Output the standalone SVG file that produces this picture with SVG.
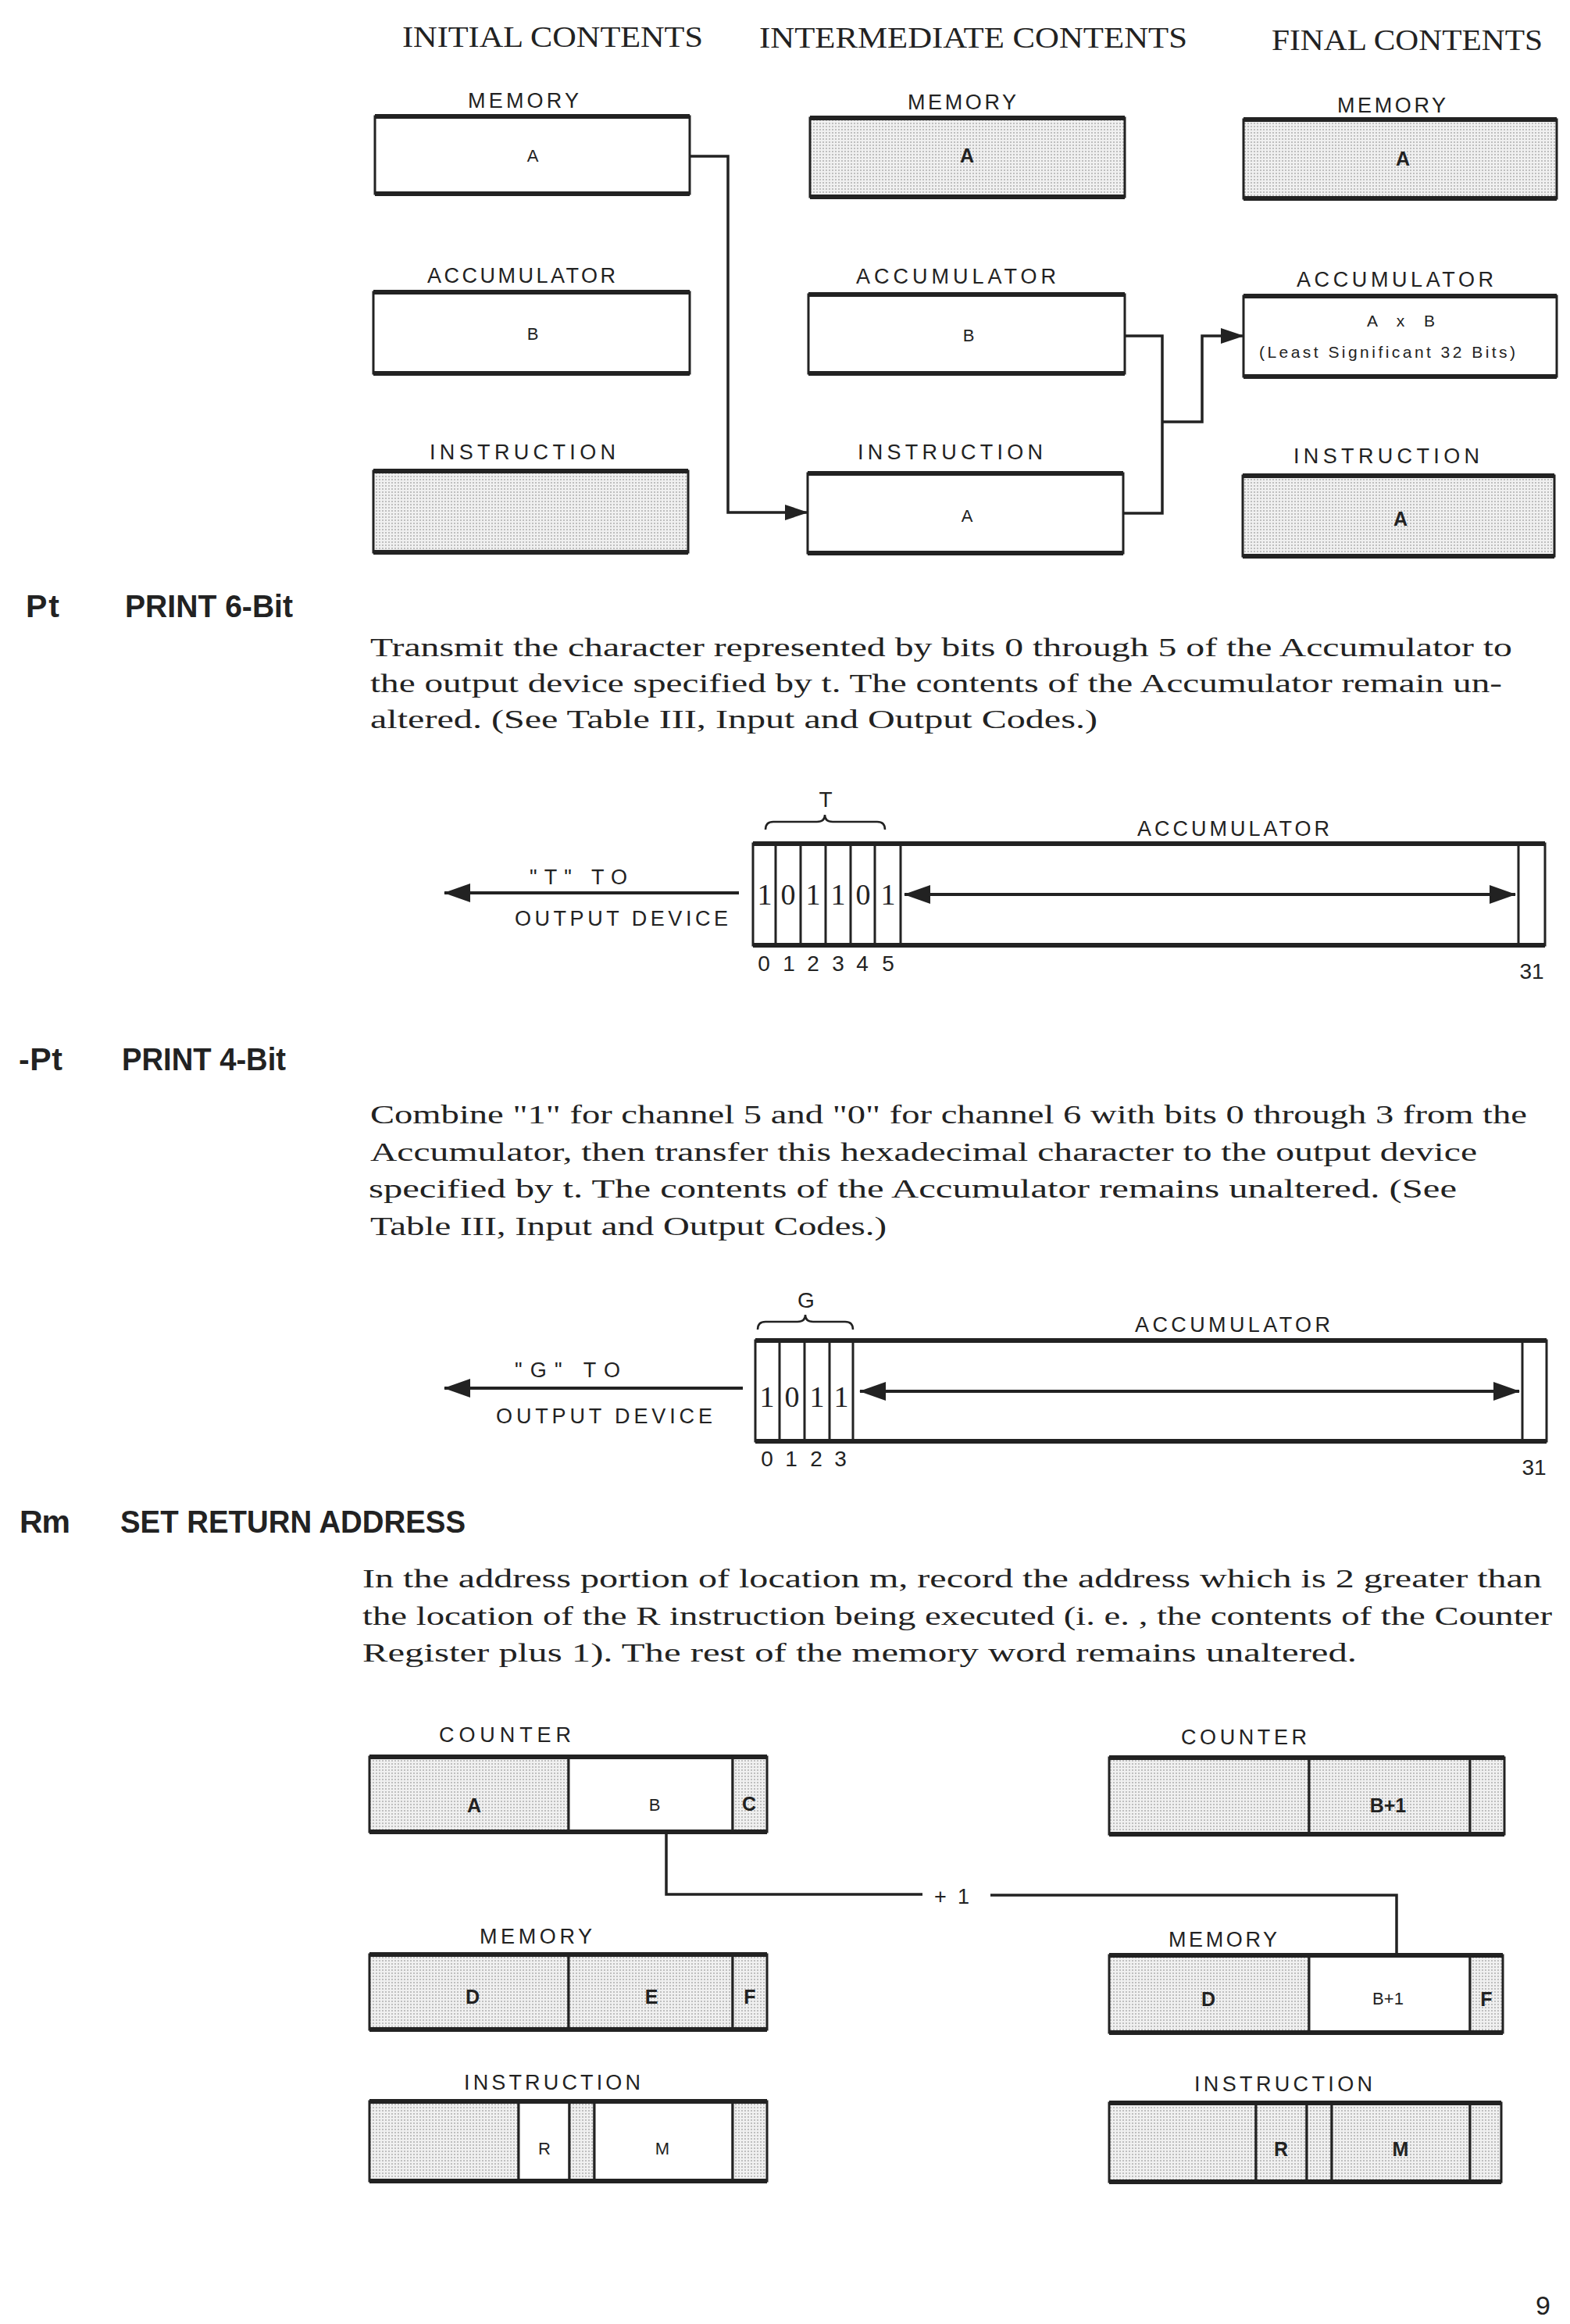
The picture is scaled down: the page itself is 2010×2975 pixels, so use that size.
<svg xmlns="http://www.w3.org/2000/svg" width="2010" height="2975" viewBox="0 0 2010 2975">
<defs>
<pattern id="dots" width="4" height="4" patternUnits="userSpaceOnUse"><rect width="4" height="4" fill="#f0f0f0"/><circle cx="2" cy="2" r="0.9" fill="#a8a8a8"/></pattern>
<marker id="ah" viewBox="0 0 30 20" refX="29" refY="10" markerWidth="30" markerHeight="20" markerUnits="userSpaceOnUse" orient="auto"><path d="M0,0 L30,10 L0,20 z" fill="#222"/></marker>
<marker id="big" viewBox="0 0 34 24" refX="33" refY="12" markerWidth="34" markerHeight="24" markerUnits="userSpaceOnUse" orient="auto-start-reverse"><path d="M0,0 L34,12 L0,24 z" fill="#222"/></marker>
<style>
text{fill:#222}
.lbl{font-family:"Liberation Sans",Arial,sans-serif;font-size:27px}
.sm{font-family:"Liberation Sans",Arial,sans-serif;font-size:21px}
.let{font-family:"Liberation Sans",Arial,sans-serif;font-size:22px;text-anchor:middle}
.letb{font-family:"Liberation Sans",Arial,sans-serif;font-size:25px;font-weight:bold;text-anchor:middle}
.num{font-family:"Liberation Sans",Arial,sans-serif;font-size:28px;text-anchor:middle}
.bit{font-family:"Liberation Serif","Times New Roman",serif;font-size:38px;text-anchor:middle}
.ttl{font-family:"Liberation Serif","Times New Roman",serif;font-size:37px}
.ser{font-family:"Liberation Serif","Times New Roman",serif;font-size:33px}
.hd{font-family:"Liberation Sans",Arial,sans-serif;font-size:41px;font-weight:bold}
.box{fill:#fff;stroke:#222;stroke-width:3}
.g{fill:url(#dots);stroke:#222;stroke-width:3}
.w{fill:#fff;stroke:#222;stroke-width:3}
.edge{stroke:#222;stroke-width:6;fill:none}
.div{stroke:#222;stroke-width:3}
.wire{fill:none;stroke:#222;stroke-width:3.5}
.arr{fill:none;stroke:#222;stroke-width:4}
.brace{fill:none;stroke:#222;stroke-width:2.5}
</style>
</defs>
<rect width="2010" height="2975" fill="#fff"/>

<!-- Column titles -->
<text class="ttl" x="515" y="60" textLength="385" lengthAdjust="spacingAndGlyphs">INITIAL CONTENTS</text>
<text class="ttl" x="972" y="61" textLength="548" lengthAdjust="spacingAndGlyphs">INTERMEDIATE CONTENTS</text>
<text class="ttl" x="1628" y="64" textLength="347" lengthAdjust="spacingAndGlyphs">FINAL CONTENTS</text>

<!-- Top section nodes -->
<g id="init-memory">
<text class="lbl" x="599" y="138" textLength="142">MEMORY</text>
<rect class="box" x="480" y="149" width="403" height="99"/>
<path class="edge" d="M480,149 h403 M480,248 h403"/>
<text class="let" x="682" y="207">A</text>
</g>
<g id="init-accumulator">
<text class="lbl" x="547" y="362" textLength="241">ACCUMULATOR</text>
<rect class="box" x="478" y="374" width="405" height="104"/>
<path class="edge" d="M478,374 h405 M478,478 h405"/>
<text class="let" x="682" y="435">B</text>
</g>
<g id="init-instruction">
<text class="lbl" x="550" y="588" textLength="238">INSTRUCTION</text>
<rect class="g" x="478" y="603" width="403" height="104"/>
<path class="edge" d="M478,603 h403 M478,707 h403"/>
</g>

<g id="mid-memory">
<text class="lbl" x="1162" y="140" textLength="139">MEMORY</text>
<rect class="g" x="1037" y="151" width="403" height="101"/>
<path class="edge" d="M1037,151 h403 M1037,252 h403"/>
<text class="letb" x="1238" y="208">A</text>
</g>
<g id="mid-accumulator">
<text class="lbl" x="1096" y="363" textLength="256">ACCUMULATOR</text>
<rect class="box" x="1035" y="377" width="405" height="101"/>
<path class="edge" d="M1035,377 h405 M1035,478 h405"/>
<text class="let" x="1240" y="437">B</text>
</g>
<g id="mid-instruction">
<text class="lbl" x="1098" y="588" textLength="237">INSTRUCTION</text>
<rect class="box" x="1034" y="606" width="404" height="102"/>
<path class="edge" d="M1034,606 h404 M1034,708 h404"/>
<text class="let" x="1238" y="668">A</text>
</g>

<g id="final-memory">
<text class="lbl" x="1712" y="144" textLength="139">MEMORY</text>
<rect class="g" x="1592" y="153" width="401" height="101"/>
<path class="edge" d="M1592,153 h401 M1592,254 h401"/>
<text class="letb" x="1796" y="212">A</text>
</g>
<g id="final-accumulator">
<text class="lbl" x="1660" y="367" textLength="252">ACCUMULATOR</text>
<rect class="box" x="1592" y="379" width="401" height="103"/>
<path class="edge" d="M1592,379 h401 M1592,482 h401"/>
<text class="sm" x="1750" y="418" textLength="87">A x B</text>
<text class="sm" x="1612" y="458" textLength="328">(Least Significant 32 Bits)</text>
</g>
<g id="final-instruction">
<text class="lbl" x="1656" y="593" textLength="238">INSTRUCTION</text>
<rect class="g" x="1591" y="609" width="399" height="103"/>
<path class="edge" d="M1591,609 h399 M1591,712 h399"/>
<text class="letb" x="1793" y="673">A</text>
</g>

<!-- Pt section -->
<g id="pt-heading">
<text class="hd" x="33" y="790" textLength="43">Pt</text>
<text class="hd" x="160" y="790" textLength="215" lengthAdjust="spacingAndGlyphs">PRINT 6-Bit</text>
</g>
<g id="pt-text">
<text class="ser" x="474" y="840" textLength="1462" lengthAdjust="spacingAndGlyphs">Transmit the character represented by bits 0 through 5 of the Accumulator to</text>
<text class="ser" x="474" y="886" textLength="1449" lengthAdjust="spacingAndGlyphs">the output device specified by t.  The contents of the Accumulator remain un-</text>
<text class="ser" x="474" y="932" textLength="931" lengthAdjust="spacingAndGlyphs">altered.  (See Table III, Input and Output Codes.)</text>
</g>
<g id="pt-accumulator">
<text class="num" x="1057" y="1033">T</text>
<path class="brace" d="M980,1062 Q980,1052 990,1052 L1046,1052 Q1056,1052 1056,1043 Q1056,1052 1066,1052 L1123,1052 Q1133,1052 1133,1062"/>
<text class="lbl" x="1456" y="1070" textLength="246">ACCUMULATOR</text>
<rect class="box" x="964" y="1080" width="1014" height="130"/>
<path class="edge" d="M964,1080 h1014 M964,1210 h1014"/>
<path class="div" d="M993,1080 v130 M1025,1080 v130 M1057,1080 v130 M1089,1080 v130 M1120,1080 v130 M1153,1080 v130 M1944,1080 v130"/>
<text class="bit" x="979" y="1158">1</text>
<text class="bit" x="1009" y="1158">0</text>
<text class="bit" x="1041" y="1158">1</text>
<text class="bit" x="1073" y="1158">1</text>
<text class="bit" x="1105" y="1158">0</text>
<text class="bit" x="1137" y="1158">1</text>
<text class="num" x="978" y="1243">0</text>
<text class="num" x="1010" y="1243">1</text>
<text class="num" x="1041" y="1243">2</text>
<text class="num" x="1073" y="1243">3</text>
<text class="num" x="1104" y="1243">4</text>
<text class="num" x="1137" y="1243">5</text>
<text class="num" x="1961" y="1253">31</text>
</g>
<g id="pt-output">
<text class="lbl" x="678" y="1132" textLength="125">"T" TO</text>
<text class="lbl" x="659" y="1185" textLength="273">OUTPUT DEVICE</text>
</g>

<!-- -Pt section -->
<g id="mpt-heading">
<text class="hd" x="24" y="1370" textLength="56">-Pt</text>
<text class="hd" x="156" y="1370" textLength="210" lengthAdjust="spacingAndGlyphs">PRINT 4-Bit</text>
</g>
<g id="mpt-text">
<text class="ser" x="474" y="1438" textLength="1481" lengthAdjust="spacingAndGlyphs">Combine "1" for channel 5 and "0" for channel 6 with bits 0 through 3 from the</text>
<text class="ser" x="474" y="1486" textLength="1417" lengthAdjust="spacingAndGlyphs">Accumulator, then transfer this hexadecimal character to the output device</text>
<text class="ser" x="472" y="1533" textLength="1393" lengthAdjust="spacingAndGlyphs">specified by t.  The contents of the Accumulator remains unaltered.  (See</text>
<text class="ser" x="474" y="1581" textLength="661" lengthAdjust="spacingAndGlyphs">Table III, Input and Output Codes.)</text>
</g>
<g id="mpt-accumulator">
<text class="num" x="1032" y="1674">G</text>
<path class="brace" d="M970,1702 Q970,1692 980,1692 L1021,1692 Q1031,1692 1031,1683 Q1031,1692 1041,1692 L1082,1692 Q1092,1692 1092,1702"/>
<text class="lbl" x="1453" y="1705" textLength="250">ACCUMULATOR</text>
<rect class="box" x="967" y="1716" width="1013" height="129"/>
<path class="edge" d="M967,1716 h1013 M967,1845 h1013"/>
<path class="div" d="M998,1716 v129 M1030,1716 v129 M1062,1716 v129 M1092,1716 v129 M1949,1716 v129"/>
<text class="bit" x="982" y="1801">1</text>
<text class="bit" x="1014" y="1801">0</text>
<text class="bit" x="1046" y="1801">1</text>
<text class="bit" x="1077" y="1801">1</text>
<text class="num" x="982" y="1877">0</text>
<text class="num" x="1013" y="1877">1</text>
<text class="num" x="1045" y="1877">2</text>
<text class="num" x="1076" y="1877">3</text>
<text class="num" x="1964" y="1888">31</text>
</g>
<g id="mpt-output">
<text class="lbl" x="659" y="1763" textLength="135">"G" TO</text>
<text class="lbl" x="635" y="1822" textLength="277">OUTPUT DEVICE</text>
</g>

<!-- Rm section -->
<g id="rm-heading">
<text class="hd" x="25" y="1962" textLength="65">Rm</text>
<text class="hd" x="154" y="1962" textLength="442" lengthAdjust="spacingAndGlyphs">SET RETURN ADDRESS</text>
</g>
<g id="rm-text">
<text class="ser" x="464" y="2032" textLength="1510" lengthAdjust="spacingAndGlyphs">In the address portion of location m, record the address which is 2 greater than</text>
<text class="ser" x="464" y="2080" textLength="1523" lengthAdjust="spacingAndGlyphs">the location of the R instruction being executed (i. e. , the contents of the Counter</text>
<text class="ser" x="464" y="2127" textLength="1273" lengthAdjust="spacingAndGlyphs">Register plus 1).  The rest of the memory word remains unaltered.</text>
</g>

<g id="rm-counter-left">
<text class="lbl" x="562" y="2230" textLength="169">COUNTER</text>
<rect class="g" x="473" y="2249" width="255" height="96"/>
<rect class="w" x="728" y="2249" width="210" height="96"/>
<rect class="g" x="938" y="2249" width="44" height="96"/>
<path class="edge" d="M473,2249 h509 M473,2345 h509"/>
<text class="letb" x="607" y="2320">A</text>
<text class="let" x="838" y="2318">B</text>
<text class="letb" x="959" y="2318">C</text>
</g>
<g id="rm-counter-right">
<text class="lbl" x="1512" y="2233" textLength="161">COUNTER</text>
<rect class="g" x="1420" y="2250" width="256" height="98"/>
<rect class="g" x="1676" y="2250" width="206" height="98"/>
<rect class="g" x="1882" y="2250" width="44" height="98"/>
<path class="edge" d="M1420,2250 h506 M1420,2348 h506"/>
<text class="letb" x="1777" y="2320">B+1</text>
</g>
<g id="rm-memory-left">
<text class="lbl" x="614" y="2488" textLength="144">MEMORY</text>
<rect class="g" x="473" y="2502" width="255" height="96"/>
<rect class="g" x="728" y="2502" width="210" height="96"/>
<rect class="g" x="938" y="2502" width="44" height="96"/>
<path class="edge" d="M473,2502 h509 M473,2598 h509"/>
<text class="letb" x="605" y="2565">D</text>
<text class="letb" x="834" y="2565">E</text>
<text class="letb" x="960" y="2565">F</text>
</g>
<g id="rm-memory-right">
<text class="lbl" x="1496" y="2492" textLength="139">MEMORY</text>
<rect class="g" x="1420" y="2503" width="256" height="99"/>
<rect class="w" x="1676" y="2503" width="206" height="99"/>
<rect class="g" x="1882" y="2503" width="42" height="99"/>
<path class="edge" d="M1420,2503 h504 M1420,2602 h504"/>
<text class="letb" x="1547" y="2568">D</text>
<text class="let" x="1777" y="2566">B+1</text>
<text class="letb" x="1903" y="2568">F</text>
</g>
<g id="rm-instruction-left">
<text class="lbl" x="594" y="2675" textLength="226">INSTRUCTION</text>
<rect class="g" x="473" y="2690" width="191" height="102"/>
<rect class="w" x="664" y="2690" width="65" height="102"/>
<rect class="g" x="729" y="2690" width="32" height="102"/>
<rect class="w" x="761" y="2690" width="177" height="102"/>
<rect class="g" x="938" y="2690" width="44" height="102"/>
<path class="edge" d="M473,2690 h509 M473,2792 h509"/>
<text class="let" x="697" y="2758">R</text>
<text class="let" x="848" y="2758">M</text>
</g>
<g id="rm-instruction-right">
<text class="lbl" x="1529" y="2677" textLength="228">INSTRUCTION</text>
<rect class="g" x="1420" y="2692" width="188" height="101"/>
<rect class="g" x="1608" y="2692" width="65" height="101"/>
<rect class="g" x="1673" y="2692" width="32" height="101"/>
<rect class="g" x="1705" y="2692" width="177" height="101"/>
<rect class="g" x="1882" y="2692" width="40" height="101"/>
<path class="edge" d="M1420,2692 h502 M1420,2793 h502"/>
<text class="letb" x="1640" y="2760">R</text>
<text class="letb" x="1793" y="2760">M</text>
</g>

<!-- Connectors -->
<g id="connectors">
<path class="wire" d="M883,200 H932 V656 H1034" marker-end="url(#ah)"/>
<path class="wire" d="M1440,430 H1488 V657 H1438"/>
<path class="wire" d="M1488,540 H1539 V430 H1592" marker-end="url(#ah)"/>
<path class="arr" d="M946,1143 H569" marker-end="url(#big)"/>
<path class="arr" d="M1158,1145 H1940" marker-start="url(#big)" marker-end="url(#big)"/>
<path class="arr" d="M951,1777 H569" marker-end="url(#big)"/>
<path class="arr" d="M1101,1781 H1945" marker-start="url(#big)" marker-end="url(#big)"/>
<path class="wire" d="M853,2345 V2425 H1181"/>
<path class="wire" d="M1268,2426 H1788 V2503"/>
<text class="lbl" x="1196" y="2437" font-size="30" textLength="45">+1</text>
</g>

<text x="1966" y="2963" font-family="Liberation Sans, Arial, sans-serif" font-size="34">9</text>
</svg>
